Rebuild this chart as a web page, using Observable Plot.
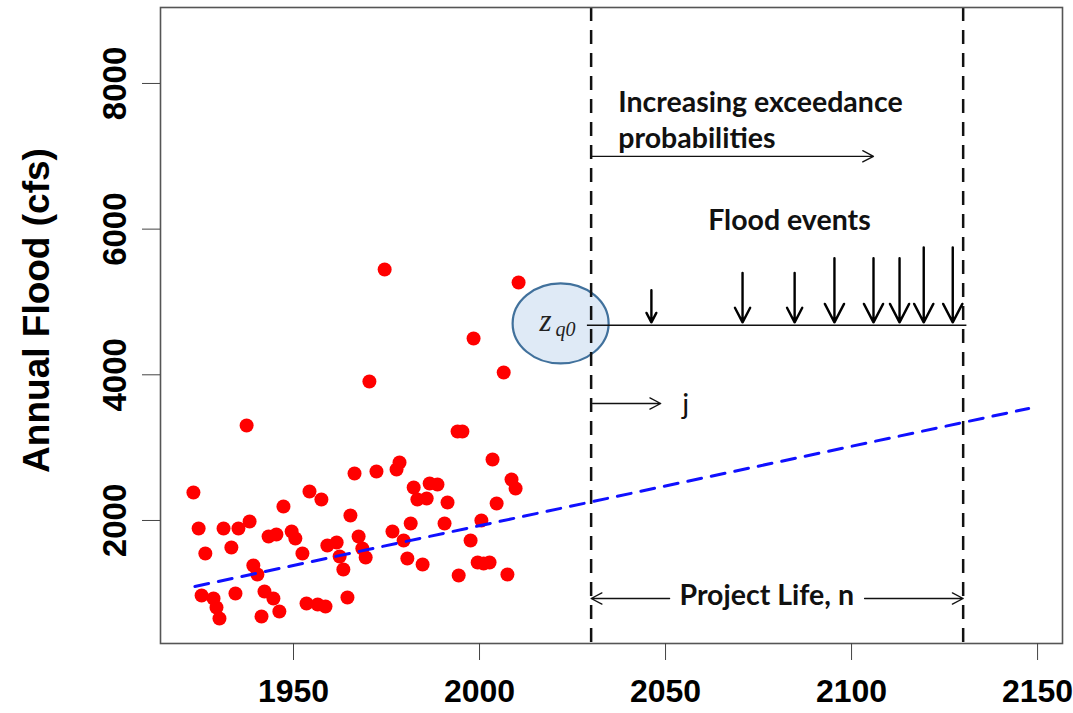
<!DOCTYPE html>
<html>
<head>
<meta charset="utf-8">
<script src="https://cdn.jsdelivr.net/npm/d3@7"></script>
<script src="https://cdn.jsdelivr.net/npm/@observablehq/plot@0.6"></script>
<style>
  html, body { margin: 0; padding: 0; background: #fff; }
  #chart svg { display: block; }
</style>
</head>
<body>
<div id="chart"></div>
<script>
// Observed annual floods
const years = [1923.1,1924.5,1926.3,1925.3,1928.5,1929.3,1930.1,1931.2,1933.3,1934.4,1935.2,1937.4,1938.2,1939.2,1940.3,1941.4,1942.2,1943.3,1944.6,1945.4,1946.2,1947.3,1949.5,1950.5,1952.4,1953.5,1954.3,1956.5,1957.5,1958.6,1959.1,1961.6,1962.4,1963.4,1964.5,1965.3,1966.4,1967.5,1968.5,1969.4,1970.4,1972.3,1974.5,1976.6,1977.7,1978.5,1979.6,1980.6,1981.5,1982.3,1983.3,1984.7,1985.8,1986.6,1988.7,1990.6,1991.4,1994.1,1994.4,1995.4,1997.6,1998.4,1999.5,2000.5,2001.1,2002.7,2003.5,2004.6,2006.5,2007.5,2008.6,2009.7,2010.5];
const flows = [2384,1890,1547,970,929,805,654,1890,1629,998,1890,3304,1986,1382,1259,682,1025,1780,929,1808,751,2192,1849,1753,1547,860,2398,847,2288,819,1657,1698,1506,1327,943,2069,2645,1780,1616,1492,3908,2673,5446,1849,2700,2796,1725,1478,1959,2453,2288,1396,2302,2508,2494,1959,2247,3222,1245,3222,1725,4499,1423,2000,1410,1423,2838,2233,4032,1259,2563,2439,5268];

// Trend line
const trendYears = [1923.5, 2147.6];
const trendFlows = [1094, 3538];

// Project life bounds
const projectBounds = [2030, 2130];

// Design flood threshold z_q0
const zq0 = 4680;
const zq0Span = [2029, 2131];

// Flood events (arrows pointing down to threshold)
const eventYears = [2046.2, 2070.7, 2084.7, 2095.4, 2105.9, 2112.9, 2119.4, 2127.2];
const eventTops = [5160, 5400, 5400, 5600, 5600, 5600, 5750, 5750];
const eventTip = 4720;

// Axis ticks
const xTicks = [1950, 2000, 2050, 2100, 2150];
const yTicks = [2000, 4000, 6000, 8000];
const yLabel = "Annual Flood (cfs)";

// Annotations
const leftNotes = [
  {x: 2037.3, y: 7739, text: "Increasing exceedance"},
  {x: 2037.3, y: 7245, text: "probabilities"}
];
const centerNotes = [
  {x: 2083.3, y: 6119, text: "Flood events"},
  {x: 2077.2, y: 960, text: "Project Life, n"}
];
const plainNotes = [{x: 2055.4, y: 3590, text: "j"}];
const thinArrows = [
  {x1: 2030, y1: 7000, x2: 2105.9, y2: 7000},
  {x1: 2030.4, y1: 3606, x2: 2048.7, y2: 3606},
  {x1: 2051.1, y1: 929, x2: 2030, y2: 929},
  {x1: 2103.5, y1: 929, x2: 2130, y2: 929}
];
const ellipseCenter = [{x: 2021.8, y: 4705}];

const ellipseSymbol = {
  draw(context, size) {
    const r = Math.sqrt(size / Math.PI);
    const rx = r * 1.2, ry = r, k = 0.5523;
    context.moveTo(rx, 0);
    context.bezierCurveTo(rx, ry * k, rx * k, ry, 0, ry);
    context.bezierCurveTo(-rx * k, ry, -rx, ry * k, -rx, 0);
    context.bezierCurveTo(-rx, -ry * k, -rx * k, -ry, 0, -ry);
    context.bezierCurveTo(rx * k, -ry, rx, -ry * k, rx, 0);
    context.closePath();
  }
};

const flood = years.map((y, i) => ({year: y, flow: flows[i]}));
const trend = trendYears.map((y, i) => ({year: y, flow: trendFlows[i]}));
const events = eventYears.map((y, i) => ({year: y, top: eventTops[i]}));

const axisFont = "'Liberation Sans', Arial, sans-serif";
const noteFont = "Lato, 'Open Sans', sans-serif";
const mathFont = "'Liberation Serif', 'DejaVu Serif', serif";

const plot = Plot.plot({
  width: 1073,
  height: 713,
  marginLeft: 160,
  marginRight: 11,
  marginTop: 7,
  marginBottom: 70,
  style: {background: "#fff"},
  x: {domain: [1914.25, 2156.7]},
  y: {domain: [311, 9043]},
  marks: [
    Plot.dot(flood, {x: "year", y: "flow", r: 7, fill: "#ff0000"}),
    Plot.dot(ellipseCenter, {x: "x", y: "y", r: 40, symbol: ellipseSymbol, fill: "#dfeaf6", stroke: "#41719c", strokeWidth: 2.2}),
    Plot.ruleX(projectBounds, {stroke: "#111", strokeWidth: 2.5, strokeDasharray: "14,9"}),
    Plot.line(trend, {x: "year", y: "flow", stroke: "#1010ff", strokeWidth: 3, strokeDasharray: "14,10"}),
    Plot.ruleY([zq0], {x1: zq0Span[0], x2: zq0Span[1], stroke: "#111", strokeWidth: 1.6}),
    Plot.arrow(events, {x1: "year", y1: "top", x2: "year", y2: () => eventTip, stroke: "#000", strokeWidth: 2.4, headLength: 13, headAngle: 55}),
    Plot.arrow(thinArrows, {x1: "x1", y1: "y1", x2: "x2", y2: "y2", stroke: "#111", strokeWidth: 1.3, headLength: 14, headAngle: 55}),
    Plot.text(leftNotes, {x: "x", y: "y", text: "text", textAnchor: "start", fontFamily: noteFont, fontWeight: "bold", fontSize: 28.5, fill: "#111"}),
    Plot.text(centerNotes, {x: "x", y: "y", text: "text", textAnchor: "middle", fontFamily: noteFont, fontWeight: "bold", fontSize: 28.5, fill: "#111"}),
    Plot.text(plainNotes, {x: "x", y: "y", text: "text", fontFamily: noteFont, fontSize: 29, fill: "#111"}),
    Plot.text(ellipseCenter, {x: "x", y: "y", text: () => "z", dx: -21, dy: -2, textAnchor: "start", fontFamily: mathFont, fontStyle: "italic", fontSize: 31, fill: "#222"}),
    Plot.text(ellipseCenter, {x: "x", y: "y", text: () => "q0", dx: -5, dy: 6, textAnchor: "start", fontFamily: mathFont, fontStyle: "italic", fontSize: 20, fill: "#222"}),
    Plot.frame({stroke: "#555", strokeWidth: 1.6}),
    Plot.axisX({ticks: xTicks, tickSize: 17, tickPadding: 19, tickFormat: d => String(d), stroke: "#444", fontSize: 32, fontWeight: "bold", fontFamily: axisFont, fill: "#000", label: null}),
    Plot.axisY({ticks: yTicks, tickSize: 18, stroke: "#444", tickFormat: () => "", label: null}),
    Plot.text(yTicks, {y: d => d, text: d => String(d), frameAnchor: "left", textAnchor: "middle", dx: -45, rotate: -90, fontSize: 33, fontWeight: "bold", fontFamily: axisFont, fill: "#000"}),
    Plot.text([yLabel], {frameAnchor: "left", textAnchor: "middle", dx: -123, dy: -15, rotate: -90, text: d => d, fontSize: 37, fontWeight: "bold", fontFamily: axisFont, fill: "#000"})
  ]
});
document.getElementById("chart").appendChild(plot);
</script>
</body>
</html>
